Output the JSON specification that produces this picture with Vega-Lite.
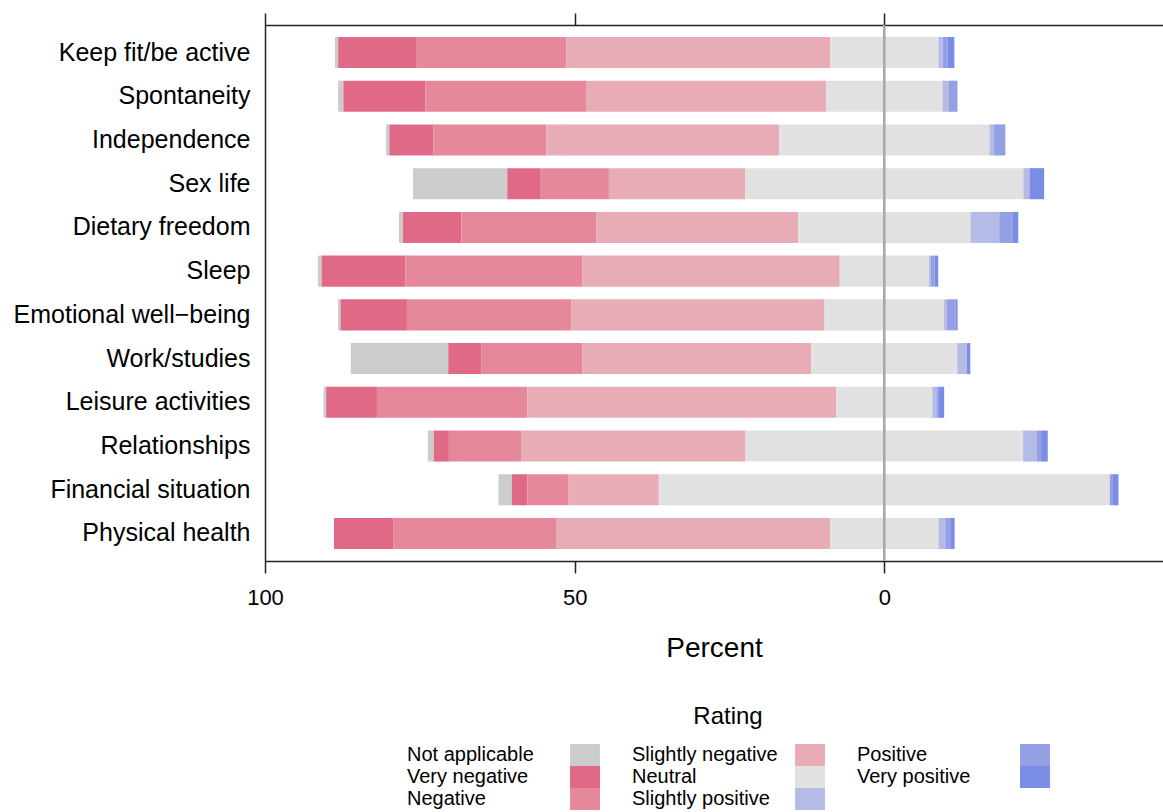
{
  "$schema": "https://vega.github.io/schema/vega-lite/v6.json",
  "autosize": "none",
  "padding": {"left": 265, "top": 25, "right": 0, "bottom": 251},
  "width": 898,
  "height": 536,
  "background": "white",
  "config": {
    "font": "Liberation Sans",
    "view": {"stroke": null},
    "axis": {"domainColor": "#222222", "domainWidth": 1.5, "tickColor": "#222222", "tickWidth": 1.5, "grid": false, "labelColor": "#000000", "titleColor": "#000000", "labelFont": "Liberation Sans", "titleFont": "Liberation Sans"},
    "legend": {"labelFont": "Liberation Sans", "titleFont": "Liberation Sans"}
  },
  "data": {
    "values": [
      {"item": "Keep fit/be active", "Not applicable": 0.53, "Very negative": 12.57, "Negative": 24.27, "Slightly negative": 42.6, "Neutral": 17.48, "Slightly positive": 0.7, "Positive": 0.8, "Very positive": 1.07},
      {"item": "Spontaneity", "Not applicable": 0.86, "Very negative": 13.22, "Negative": 25.94, "Slightly negative": 38.79, "Neutral": 18.77, "Slightly positive": 0.97, "Positive": 1.46, "Very positive": 0},
      {"item": "Independence", "Not applicable": 0.53, "Very negative": 7.12, "Negative": 18.24, "Slightly negative": 37.59, "Neutral": 33.93, "Slightly positive": 0.76, "Positive": 1.83, "Very positive": 0},
      {"item": "Sex life", "Not applicable": 15.21, "Very negative": 5.29, "Negative": 11.12, "Slightly negative": 22.01, "Neutral": 44.92, "Slightly positive": 0.97, "Positive": 0, "Very positive": 2.38},
      {"item": "Dietary freedom", "Not applicable": 0.65, "Very negative": 9.43, "Negative": 21.75, "Slightly negative": 32.62, "Neutral": 27.83, "Slightly positive": 4.64, "Positive": 2.22, "Very positive": 0.86},
      {"item": "Sleep", "Not applicable": 0.6, "Very negative": 13.54, "Negative": 28.58, "Slightly negative": 41.54, "Neutral": 14.4, "Slightly positive": 0.3, "Positive": 0.6, "Very positive": 0.6},
      {"item": "Emotional well−being", "Not applicable": 0.39, "Very negative": 10.73, "Negative": 26.54, "Slightly negative": 40.89, "Neutral": 19.3, "Slightly positive": 0.43, "Positive": 1.45, "Very positive": 0.3},
      {"item": "Work/studies", "Not applicable": 15.74, "Very negative": 5.39, "Negative": 16.29, "Slightly negative": 36.94, "Neutral": 23.58, "Slightly positive": 1.57, "Positive": 0, "Very positive": 0.53},
      {"item": "Leisure activities", "Not applicable": 0.42, "Very negative": 8.2, "Negative": 24.27, "Slightly negative": 49.89, "Neutral": 15.53, "Slightly positive": 0.65, "Positive": 0.4, "Very positive": 0.85},
      {"item": "Relationships", "Not applicable": 0.97, "Very negative": 2.43, "Negative": 11.75, "Slightly negative": 36.15, "Neutral": 44.82, "Slightly positive": 2.15, "Positive": 0.76, "Very positive": 1.07},
      {"item": "Financial situation", "Not applicable": 2.17, "Very negative": 2.48, "Negative": 6.68, "Slightly negative": 14.56, "Neutral": 72.82, "Slightly positive": 0, "Positive": 0.5, "Very positive": 0.9},
      {"item": "Physical health", "Not applicable": 0, "Very negative": 9.55, "Negative": 26.42, "Slightly negative": 44.13, "Neutral": 17.52, "Slightly positive": 1.08, "Positive": 0.81, "Very positive": 0.7}
    ]
  },
  "layer": [
    {
      "transform": [
        {"fold": ["Not applicable", "Very negative", "Negative", "Slightly negative", "Neutral", "Slightly positive", "Positive", "Very positive"], "as": ["rating", "value"]},
        {"calculate": "indexof(['Not applicable','Very negative','Negative','Slightly negative','Neutral','Slightly positive','Positive','Very positive'], datum.rating)", "as": "ord"},
        {"calculate": "datum.ord < 4 ? datum.value : (datum.ord == 4 ? datum.value / 2 : 0)", "as": "leftpart"},
        {"joinaggregate": [{"op": "sum", "field": "leftpart", "as": "lefttotal"}], "groupby": ["item"]},
        {"window": [{"op": "sum", "field": "value", "as": "cum"}], "sort": [{"field": "ord", "order": "ascending"}], "groupby": ["item"], "frame": [null, 0]},
        {"calculate": "datum.cum - datum.lefttotal - datum.value", "as": "xstart"},
        {"calculate": "datum.cum - datum.lefttotal", "as": "xend"}
      ],
      "mark": {"type": "bar"},
      "encoding": {
        "y": {
          "field": "item", "type": "nominal",
          "sort": ["Keep fit/be active", "Spontaneity", "Independence", "Sex life", "Dietary freedom", "Sleep", "Emotional well−being", "Work/studies", "Leisure activities", "Relationships", "Financial situation", "Physical health"],
          "scale": {"paddingInner": 0.29, "paddingOuter": 0.274},
          "axis": {"title": null, "ticks": false, "labelFontSize": 25, "labelPadding": 15, "labelLimit": 400, "domain": true}
        },
        "x": {
          "field": "xstart", "type": "quantitative",
          "scale": {"domain": [-100, 45], "nice": false, "zero": false},
          "axis": {"orient": "bottom", "values": [-100, -50, 0], "labelExpr": "abs(datum.value)", "labelFlush": false, "tickSize": 12, "labelFontSize": 22, "labelPadding": 14, "title": "Percent", "titleFontSize": 28, "titleFontWeight": "normal", "titlePadding": 26}
        },
        "x2": {"field": "xend"},
        "color": {
          "field": "rating", "type": "nominal",
          "scale": {
            "domain": ["Not applicable", "Slightly negative", "Positive", "Very negative", "Neutral", "Very positive", "Negative", "Slightly positive"],
            "range": ["#cccccc", "#e8acb6", "#949fe4", "#e06987", "#e1e1e1", "#7a8ce6", "#e6889b", "#b3bbe6"]
          },
          "legend": {
            "title": "Rating", "orient": "none", "legendX": 142, "legendY": 680,
            "columns": 3, "direction": "horizontal",
            "titleAnchor": "middle", "titleFontSize": 24, "titleFontWeight": "normal", "titleColor": "#000000", "titlePadding": 15,
            "labelFontSize": 20, "labelColor": "#000000", "labelAlign": "left", "labelOffset": -189, "labelLimit": 300,
            "symbolType": "M-1.36,-1H1.36V1H-1.36Z", "symbolSize": 484, "symbolStrokeWidth": 0, "symbolOpacity": 1, "symbolOffset": 167,
            "rowPadding": 0, "columnPadding": 32
          }
        }
      }
    },
    {
      "mark": {"type": "rule", "color": "#a8a8a8", "strokeWidth": 1.5},
      "encoding": {
        "x": {"datum": 0, "type": "quantitative", "axis": {"orient": "top", "labels": false, "title": null, "tickSize": 12, "values": [-100, -50, 0]}}
      }
    }
  ]
}
